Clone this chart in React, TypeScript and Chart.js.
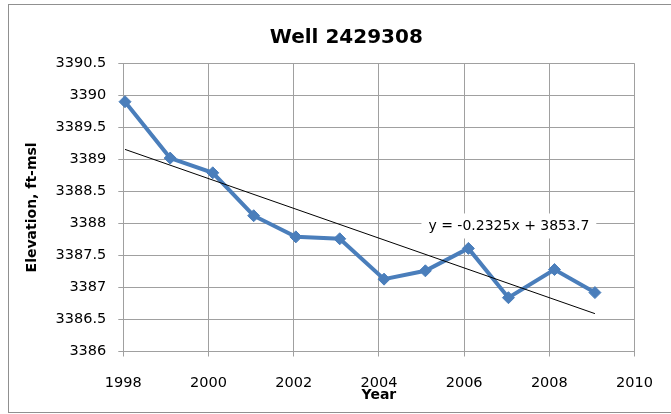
import React, { useEffect, useRef } from "react";
import { Chart, registerables } from "chart.js";

Chart.register(...registerables);

const TITLE = "Well 2429308";
const X_TITLE = "Year";
const Y_TITLE = "Elevation, ft-msl";
const YEARS = [1998.04, 1999.1, 2000.1, 2001.06, 2002.05, 2003.08, 2004.12, 2005.09, 2006.1, 2007.04, 2008.12, 2009.07];
const ELEVATIONS = [3389.9, 3389.02, 3388.79, 3388.12, 3387.79, 3387.76, 3387.13, 3387.26, 3387.61, 3386.84, 3387.28, 3386.92];
const X_TICKS = [1998, 2000, 2002, 2004, 2006, 2008, 2010];
const Y_TICKS = [3386, 3386.5, 3387, 3387.5, 3388, 3388.5, 3389, 3389.5, 3390, 3390.5];
const TREND_SLOPE = -0.2325;
const TREND_INTERCEPT = 3853.7;
const EQUATION = "y = -0.2325x + 3853.7";
const EQ_POS = { x: 2007.05, y: 3387.96 };

const FONT = "'DejaVu Sans', sans-serif";
const GRID = "#a0a0a0";
const BLUE = "#4a7ebb";

const overlay = {
  id: "overlay",
  afterDraw(chart: any) {
    const ctx = chart.ctx;
    const xs = chart.scales.x;
    const ys = chart.scales.y;
    ctx.save();
    // chart title
    ctx.fillStyle = "#000";
    ctx.font = `bold 20px ${FONT}`;
    ctx.textAlign = "center";
    ctx.textBaseline = "alphabetic";
    ctx.fillText(TITLE, 346.3, 42.5);
    // trendline equation label
    ctx.font = `14px ${FONT}`;
    const cx = xs.getPixelForValue(EQ_POS.x);
    const cy = ys.getPixelForValue(EQ_POS.y);
    const w = ctx.measureText(EQUATION).width + 14;
    const h = 25;
    ctx.fillStyle = "#fff";
    ctx.fillRect(cx - w / 2, cy - h / 2, w, h);
    ctx.fillStyle = "#000";
    ctx.textBaseline = "middle";
    ctx.fillText(EQUATION, cx, cy);
    ctx.restore();
  },
};

export default function App() {
  const ref = useRef<HTMLCanvasElement | null>(null);
  useEffect(() => {
    if (!ref.current) return;
    const points = YEARS.map((x, i) => ({ x, y: ELEVATIONS[i] }));
    const x0 = YEARS[0];
    const x1 = YEARS[YEARS.length - 1];
    const trend = [
      { x: x0, y: TREND_SLOPE * x0 + TREND_INTERCEPT },
      { x: x1, y: TREND_SLOPE * x1 + TREND_INTERCEPT },
    ];
    const chart = new Chart(ref.current, {
      type: "line",
      data: {
        datasets: [
          {
            label: "Linear trend",
            data: trend,
            borderColor: "#000",
            borderWidth: 1,
            pointRadius: 0,
            order: 0,
            clip: false,
          },
          {
            label: TITLE,
            data: points,
            borderColor: BLUE,
            backgroundColor: BLUE,
            borderWidth: 4,
            pointStyle: "rectRot",
            pointRadius: 6,
            pointBorderWidth: 1,
            pointBackgroundColor: BLUE,
            pointBorderColor: BLUE,
            order: 1,
            clip: false,
          },
        ],
      } as any,
      options: {
        responsive: false,
        animation: false,
        layout: { padding: { top: 63.3, right: 27.7, left: 0, bottom: 0 } },
        plugins: {
          legend: { display: false },
          title: { display: false },
          tooltip: { enabled: false },
        },
        scales: {
          x: {
            type: "linear",
            min: 1998,
            max: 2010,
            afterBuildTicks: (s: any) => {
              s.ticks = X_TICKS.map((v) => ({ value: v }));
            },
            afterFit: (s: any) => {
              s.height = 62.5;
            },
            grid: { color: GRID, lineWidth: 1, tickLength: 5 },
            border: { color: GRID },
            ticks: {
              color: "#000",
              font: { family: FONT, size: 14.5 },
              padding: 18,
              callback: (v: any) => String(v),
            },
            title: {
              display: true,
              text: X_TITLE,
              color: "#000",
              font: { family: FONT, size: 14, weight: "bold" },
              padding: { top: 0, bottom: 10 },
            },
          },
          y: {
            type: "linear",
            min: 3386,
            max: 3390.5,
            afterBuildTicks: (s: any) => {
              s.ticks = Y_TICKS.map((v) => ({ value: v }));
            },
            afterFit: (s: any) => {
              s.width = 123.3;
            },
            grid: { color: GRID, lineWidth: 1, tickLength: 5 },
            border: { color: GRID },
            ticks: {
              color: "#000",
              font: { family: FONT, size: 14.5 },
              padding: 12,
              callback: (v: any) => String(v),
            },
            title: {
              display: true,
              text: Y_TITLE,
              color: "#000",
              font: { family: FONT, size: 14, weight: "bold" },
              padding: { top: 23.6, bottom: 0 },
            },
          },
        },
      } as any,
      plugins: [overlay],
    });
    return () => chart.destroy();
  }, []);

  return (
    <div style={{ position: "fixed", left: 0, top: 0, width: 671, height: 414, overflow: "hidden", background: "#fff" }}>
      <div
        style={{
          position: "absolute",
          left: 8,
          top: 4,
          width: 700,
          height: 407,
          border: "1px solid #909090",
        }}
      />
      <canvas ref={ref} width={671} height={414} style={{ position: "absolute", left: 0, top: 0 }} />
    </div>
  );
}
